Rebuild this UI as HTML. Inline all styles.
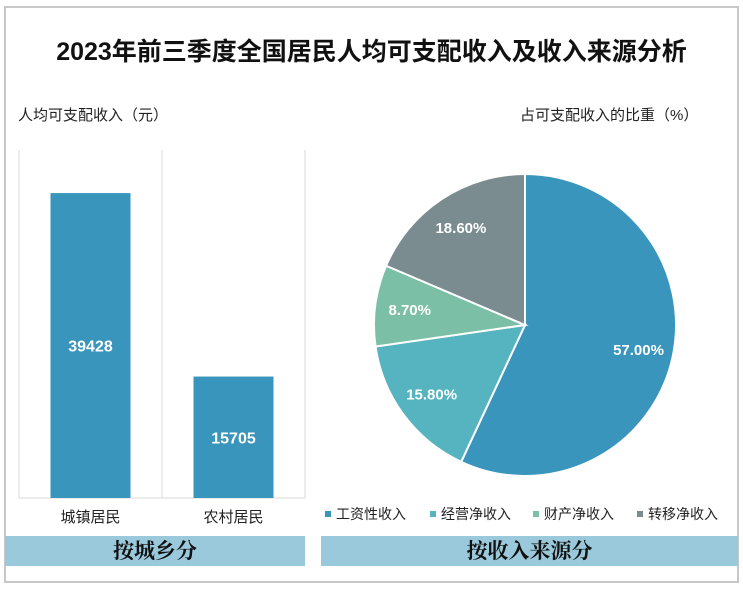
<!DOCTYPE html>
<html><head><meta charset="utf-8"><style>
body{margin:0;width:743px;height:590px;background:#fff;font-family:"Liberation Sans","Noto Sans CJK SC",sans-serif;position:relative;overflow:hidden}
.a{position:absolute}
</style></head><body>
<div class="a" style="left:4px;top:6px;width:731px;height:573px;border:2px solid #c8c8c8"></div>
<div class="a" style="left:0;width:743px;top:32px;text-align:center;font-size:25px;font-weight:bold;color:#111">2023年前三季度全国居民人均可支配收入及收入来源分析</div>
<div class="a" style="left:18px;top:104px;font-size:15px;color:#222">人均可支配收入（元）</div>
<div class="a" style="left:520px;top:104px;font-size:15px;color:#222">占可支配收入的比重（%）</div>
<svg class="a" style="left:0;top:0" width="743" height="590">
<g id="bars"></g><g id="pie"></g><g id="legend"></g>
</svg>
<div class="a" style="left:5px;top:536px;width:300px;height:30px;background:#9bc9dc;text-align:center;font-size:21px;line-height:30px;font-weight:bold;font-family:'Liberation Serif','Noto Serif CJK SC',serif;color:#111">按城乡分</div>
<div class="a" style="left:321px;top:536px;width:417px;height:30px;background:#9bc9dc;text-align:center;font-size:21px;line-height:30px;font-weight:bold;font-family:'Liberation Serif','Noto Serif CJK SC',serif;color:#111">按收入来源分</div>
<script>
const categories=["城镇居民","农村居民"];
const barValues=[39428,15705];
const sources=["工资性收入","经营净收入","财产净收入","转移净收入"];
const shares=[57.0,15.8,8.7,18.6];
const colors=["#3a95bc","#56b3c0","#7bbfa6","#7a8c8f"];
const NS="http://www.w3.org/2000/svg";
function mk(t,a,p){const e=document.createElementNS(NS,t);for(const k in a)e.setAttribute(k,a[k]);p.appendChild(e);return e;}
const bars=document.getElementById('bars');
const x0=19,x1=305,yT=150,yB=498,maxV=45000;
const y=v=>yB-(v/maxV)*(yB-yT);
const bw=(x1-x0)/categories.length;
for(let i=0;i<=categories.length;i++){const l=mk('line',{x1:x0+i*bw,x2:x0+i*bw,y1:yT,y2:yB,stroke:'#d9d9d9'},bars);}
const ax=mk('line',{x1:x0,x2:x1,y1:yB,y2:yB,stroke:'#d9d9d9'},bars);
categories.forEach((c,i)=>{
 const cx=x0+bw*(i+0.5);
 const r=mk('rect',{x:cx-40,y:y(barValues[i]),width:80,height:yB-y(barValues[i]),fill:'#3a95bc'},bars);
 
 
 const t=mk('text',{x:cx,y:(y(barValues[i])+yB)/2+6,'text-anchor':'middle','font-size':16,'font-weight':'bold',fill:'#fff'},bars);t.textContent=barValues[i];
 
 const l=mk('text',{x:cx,y:522,'text-anchor':'middle','font-size':15,fill:'#222'},bars);l.textContent=c;
 
});
const pie=document.getElementById('pie');
const pcx=525,pcy=325,R=151;
let a=0;const tot=shares.reduce((s,v)=>s+v,0);
shares.forEach((v,i)=>{
 const a0=a,a1=a+v/tot*2*Math.PI;a=a1;
 const p=(t,rr)=>[pcx+rr*Math.sin(t),pcy-rr*Math.cos(t)];
 const [sx,sy]=p(a0,R),[ex,ey]=p(a1,R);
 const s=mk('path',{d:`M${pcx},${pcy}L${sx},${sy}A${R},${R} 0 ${a1-a0>Math.PI?1:0} 1 ${ex},${ey}Z`,fill:colors[i],stroke:'#fff','stroke-width':2},pie);
 
 
 const m=(a0+a1)/2;const [lx,ly]=p(m,R*0.77);
 const t=mk('text',{x:lx,y:ly+5,'text-anchor':'middle','font-size':15,'font-weight':'bold',fill:'#fff'},pie);t.textContent=v.toFixed(2)+'%';
 
});
const lg=document.getElementById('legend');
const lx=[325,430,533,637];
sources.forEach((s,i)=>{
 const g=mk('g',{},lg);
 
 mk('rect',{x:lx[i],y:511,width:6,height:6,fill:colors[i]},g);
 const t=mk('text',{x:lx[i]+11,y:519,'font-size':14,fill:'#222'},g);t.textContent=s;
});
</script>
</body></html>
